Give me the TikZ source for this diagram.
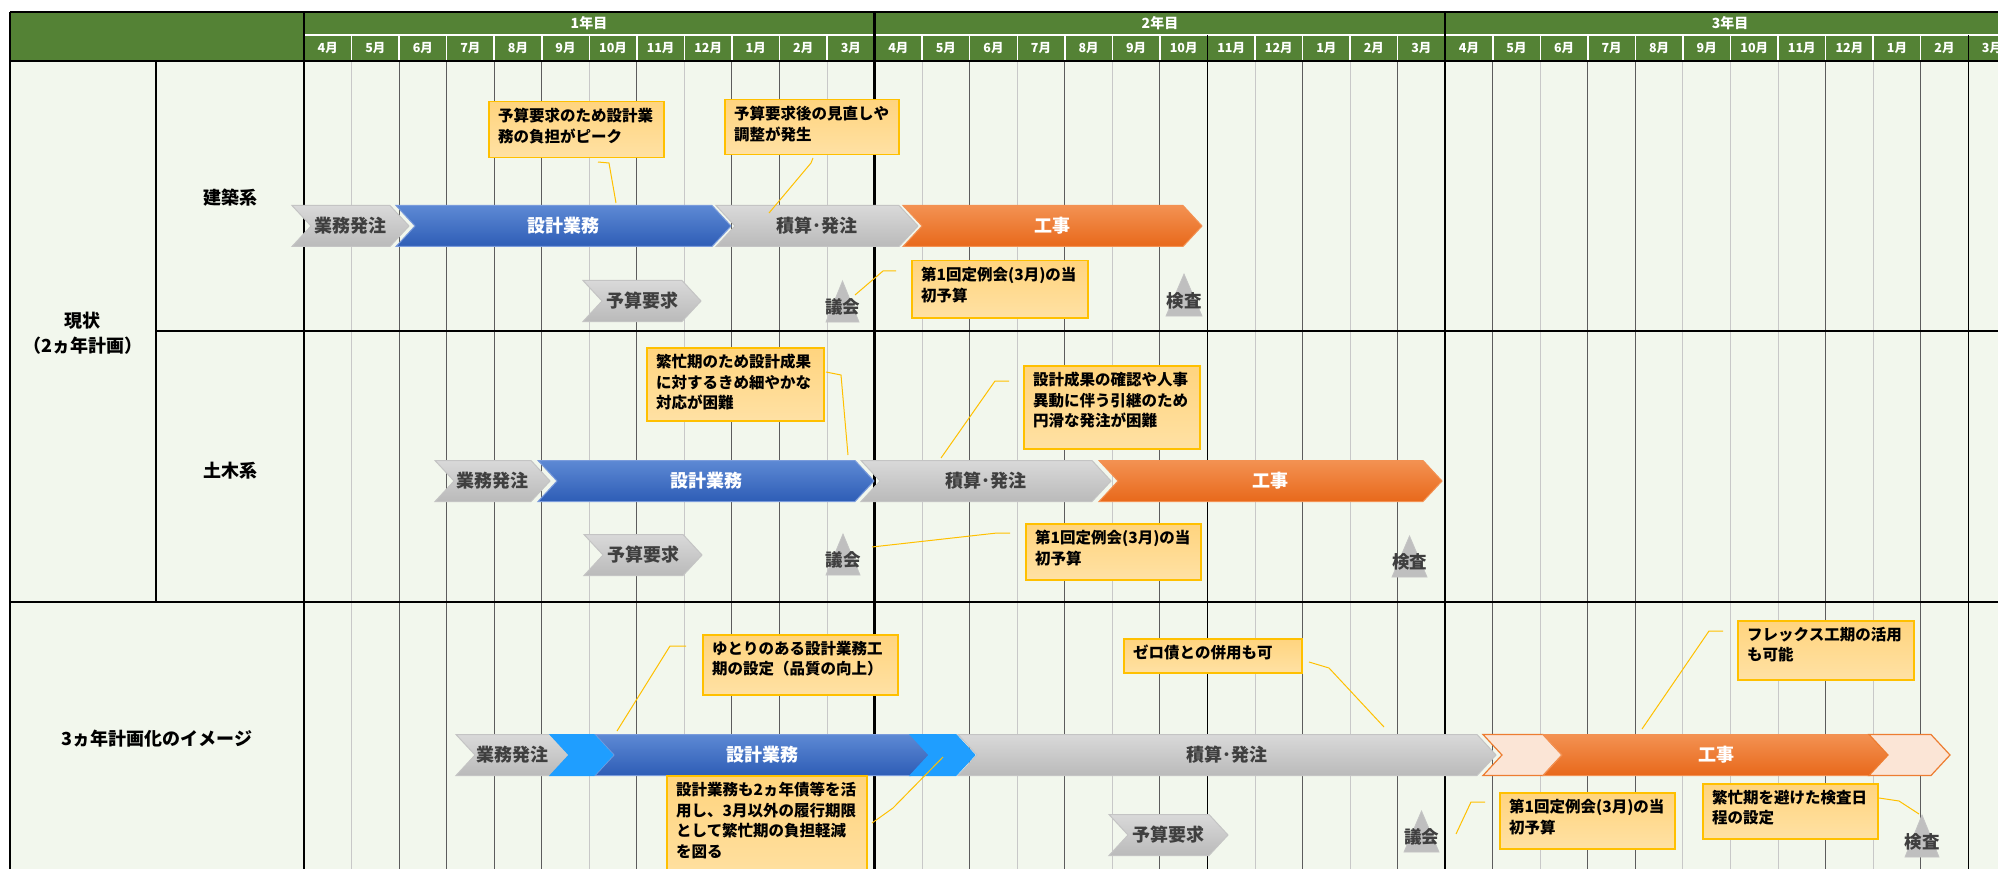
\documentclass[tikz,border=0pt]{standalone}
\usepackage{fontspec}
\setmainfont{Noto Sans CJK JP}

\definecolor{hdrgreen}{HTML}{548235}
\definecolor{bodybg}{HTML}{F2F7ED}
\definecolor{gridlt}{HTML}{C8C8C8}
\definecolor{griddk}{HTML}{5C5C5C}
\definecolor{txtgray}{HTML}{3F3F3F}
\definecolor{graytop}{HTML}{D9D9D9}
\definecolor{graybot}{HTML}{BABABA}
\definecolor{grayline}{HTML}{C4C4C4}
\definecolor{bluetop}{HTML}{5D89D4}
\definecolor{bluebot}{HTML}{2E5DB6}
\definecolor{blueline}{HTML}{7A9BDB}
\definecolor{orangetop}{HTML}{F39152}
\definecolor{orangebot}{HTML}{E8691B}
\definecolor{orangeline}{HTML}{ED7D31}
\definecolor{skyblue}{HTML}{1F9EFF}
\definecolor{peach}{HTML}{FBE5D6}
\definecolor{trigray}{HTML}{BFBFBF}
\definecolor{notetop}{HTML}{FFD47E}
\definecolor{notebot}{HTML}{FFE1A4}
\definecolor{noteline}{HTML}{FFC000}

\tikzset{
  month/.style={text=white, font=\fontsize{12.5}{12.5}\selectfont\bfseries, inner sep=0},
  yearlbl/.style={text=white, font=\fontsize{14}{14}\selectfont\bfseries, inner sep=0},
  rowlabel/.style={font=\fontsize{18}{25}\selectfont\bfseries, align=center, inner sep=0},
  chevgray/.style={top color=graytop, bottom color=graybot, draw=grayline, line width=1},
  chevblue/.style={top color=bluetop, bottom color=bluebot, draw=blueline, line width=1},
  chevorange/.style={top color=orangetop, bottom color=orangebot, draw=orangetop, line width=1},
  chevsky/.style={fill=skyblue, draw=skyblue, line width=1},
  chevpeach/.style={fill=peach, draw=orangeline, line width=1.2},
  chevtext/.style={font=\fontsize{18}{18}\selectfont\bfseries, inner sep=0},
  tri/.style={fill=trigray, draw=grayline, line width=0.8},
  trilabel/.style={text=txtgray, font=\fontsize{17.5}{17.5}\selectfont\bfseries, inner sep=0},
  notebox/.style={top color=notetop, bottom color=notebot, draw=noteline, line width=1.5, inner sep=0},
  notetext/.style={font=\fontsize{15.5}{20.5}\selectfont\bfseries, align=left, inner sep=0},
  leader/.style={draw=noteline, line width=1},
}

% chevron: name, left x, tip x, centre y, shape style, text colour, label
\newcommand{\chev}[7]{%
  \path[#5] (#2,#4-20.5) -- (#3-19,#4-20.5) -- (#3,#4) -- (#3-19,#4+20.5)
    -- (#2,#4+20.5) -- (#2+19,#4) -- cycle;
  \node[chevtext, text=#6] (#1) at ({(#2+#3)/2},#4) {#7};}

% milestone triangle: name, left x, right x, top y, base y, label
\newcommand{\milestone}[6]{%
  \path[tri] (#2,#5) -- (#3,#5) -- ({(#2+#3)/2},#4) -- cycle;
  \node[trilabel] (#1) at ({(#2+#3)/2},{#4+0.63*(#5-#4)}) {#6};}

% note box: name, left x, top y, width, height, text
\newcommand{\notebox}[6]{%
  \node[notebox, minimum width=#4, minimum height=#5, anchor=north west] (#1) at (#2,#3) {};
  \node[notetext, anchor=north west] (#1t) at ([xshift=10pt,yshift=-7pt]#1.north west) {#6};}

\begin{document}
\begin{tikzpicture}[x=1pt,y=-1pt]

  \useasboundingbox (0,0) rectangle (1998,869);
  \clip (0,0) rectangle (1998,869);

  % backgrounds
  \fill[bodybg] (10,61) rectangle (2020,880);
  \fill[hdrgreen] (10,12) rectangle (2020,61);

  % month lines
  \foreach \k/\c in {1/gridlt,2/griddk,3/griddk,4/griddk,5/griddk,6/gridlt,7/griddk,8/gridlt,
      9/griddk,10/griddk,11/gridlt,13/gridlt,14/griddk,15/gridlt,16/griddk,17/gridlt,18/griddk,
      20/gridlt,21/griddk,22/gridlt,23/griddk,25/griddk,26/gridlt,27/griddk,28/griddk,29/gridlt,
      30/gridlt,31/gridlt,32/griddk,33/gridlt,34/griddk} {
    \draw[\c, line width=1] ({304+\k*47.55},61) -- ++(0,810);
    \draw[white, line width=1.5] ({304+\k*47.55},35) -- ++(0,26);
  }
  \draw[white, line width=1.5] (304,35) -- (2020,35);
  \foreach \k in {19,35}
    \draw[line width=1.5] ({304+\k*47.55},35) -- ++(0,840);
  \foreach \k in {0,12,24}
    \draw[line width=2.5] ({304+\k*47.55},12) -- ++(0,860);

  % frame
  \draw[line width=1.2] (10,12) -- (2020,12);
  \draw[line width=2.5] (10,61) -- (2020,61);
  \draw[line width=2] (10,12) -- (10,880);
  \draw[line width=2] (155.7,61) -- (155.7,602);
  \draw[line width=1.5] (155.7,331) -- (2020,331);
  \draw[line width=2] (10,602) -- (2020,602);

  % header
  \node[yearlbl] (y1) at (589,23.5) {1年目};
  \node[yearlbl] (y2) at (1160,23.5) {2年目};
  \node[yearlbl] (y3) at (1730,23.5) {3年目};
  \foreach \m [count=\i from 0] in {4,5,6,7,8,9,10,11,12,1,2,3,4,5,6,7,8,9,10,11,12,1,2,3,
      4,5,6,7,8,9,10,11,12,1,2,3}
    \node[month] (m\i) at ({304+(\i+0.5)*47.55},48) {\m{}月};

  % row labels
  \node[rowlabel] (now) at (83,333) {現状\\（2ヵ年計画）};
  \node[rowlabel] (kenchiku) at (230,198) {建築系};
  \node[rowlabel] (doboku) at (230,471) {土木系};
  \node[rowlabel] (plan3) at (157,739) {3ヵ年計画化のイメージ};

  % 建築系
  \chev{a1}{292}{409}{226}{chevgray}{txtgray}{業務発注}
  \chev{a2}{396}{731}{226}{chevblue}{white}{設計業務}
  \chev{a3}{716}{918}{226}{chevgray}{txtgray}{積算･発注}
  \chev{a4}{903}{1202}{226}{chevorange}{white}{工事}
  \chev{a5}{583}{701}{301}{chevgray}{txtgray}{予算要求}
  \milestone{g1}{826}{859}{281}{322}{議会}
  \milestone{g2}{1166}{1202}{274}{316}{検査}

  % 土木系
  \chev{b1}{435}{550}{481}{chevgray}{txtgray}{業務発注}
  \chev{b2}{538}{874}{481}{chevblue}{white}{設計業務}
  \chev{b3}{861}{1111}{481}{chevgray}{txtgray}{積算･発注}
  \chev{b4}{1099}{1442}{481}{chevorange}{white}{工事}
  \chev{b5}{584}{702}{555}{chevgray}{txtgray}{予算要求}
  \milestone{g3}{826}{860}{534}{575}{議会}
  \milestone{g4}{1392}{1427}{536}{577}{検査}

  % 3ヵ年計画
  \chev{d1}{456}{569}{755}{chevgray}{txtgray}{業務発注}
  \chev{d2}{595}{930}{755}{chevblue}{white}{設計業務}
  \chev{d3}{550}{613}{755}{chevsky}{white}{}
  \chev{d4}{910}{975}{755}{chevsky}{white}{}
  \chev{d5}{958}{1496}{755}{chevgray}{txtgray}{積算･発注}
  \chev{d6}{1483}{1562}{755}{chevpeach}{white}{}
  \chev{d7}{1543}{1889}{755}{chevorange}{white}{工事}
  \chev{d8}{1869}{1950}{755}{chevpeach}{white}{}
  \chev{d9}{1109}{1228}{835}{chevgray}{txtgray}{予算要求}
  \milestone{g5}{1404}{1439}{811}{852}{議会}
  \milestone{g6}{1905}{1939}{815}{857}{検査}

  % notes
  \notebox{c1}{488}{101}{175}{56}{予算要求のため設計業\\務の負担がピーク}
  \notebox{c2}{724}{99}{174}{55}{予算要求後の見直しや\\調整が発生}
  \notebox{c3}{911}{260}{176}{57}{第1回定例会(3月)の当\\初予算}
  \notebox{c4}{646}{347}{177}{73}{繁忙期のため設計成果\\に対するきめ細やかな\\対応が困難}
  \notebox{c5}{1023}{365}{176}{83}{設計成果の確認や人事\\異動に伴う引継のため\\円滑な発注が困難}
  \notebox{c6}{1025}{523}{175}{56}{第1回定例会(3月)の当\\初予算}
  \notebox{c7}{702}{634}{195}{60}{ゆとりのある設計業務工\\期の設定（品質の向上）}
  \notebox{c8}{666}{775}{200}{110}{設計業務も2ヵ年債等を活\\用し、3月以外の履行期限\\として繁忙期の負担軽減\\を図る}
  \notebox{c9}{1123}{638}{178}{34}{ゼロ債との併用も可}
  \notebox{c10}{1499}{792}{175}{56}{第1回定例会(3月)の当\\初予算}
  \notebox{c11}{1737}{620}{176}{59}{フレックス工期の活用\\も可能}
  \notebox{c12}{1702}{783}{175}{55}{繁忙期を避けた検査日\\程の設定}

  % leader lines
  \path (598,162) coordinate (l1a) (609,163) coordinate (l1b) (616,203) coordinate (l1c);
  \path (813,158) coordinate (l2a) (811,163) coordinate (l2b) (769,213) coordinate (l2c);
  \path (896,271) coordinate (l3a) (883,271) coordinate (l3b) (855,295) coordinate (l3c);
  \path (826,372) coordinate (l4a) (841,375) coordinate (l4b) (848,455) coordinate (l4c);
  \path (1009,381) coordinate (l5a) (995,381) coordinate (l5b) (941,458) coordinate (l5c);
  \path (1010,533) coordinate (l6a) (997,533) coordinate (l6b) (872,547) coordinate (l6c);
  \path (686,646) coordinate (l7a) (670,646) coordinate (l7b) (617,731) coordinate (l7c);
  \path (872,823) coordinate (l8a) (893,808) coordinate (l8b) (943,757) coordinate (l8c);
  \path (1309,662) coordinate (l9a) (1329,668) coordinate (l9b) (1384,727) coordinate (l9c);
  \path (1485,802) coordinate (l10a) (1471,802) coordinate (l10b) (1456,834) coordinate (l10c);
  \path (1723,631) coordinate (l11a) (1709,631) coordinate (l11b) (1642,729) coordinate (l11c);
  \path (1879,798) coordinate (l12a) (1899,801) coordinate (l12b) (1919,814) coordinate (l12c);
  \foreach \n in {1,...,12}
    \draw[leader] (l\n a) -- (l\n b) -- (l\n c);

\end{tikzpicture}
\end{document}
